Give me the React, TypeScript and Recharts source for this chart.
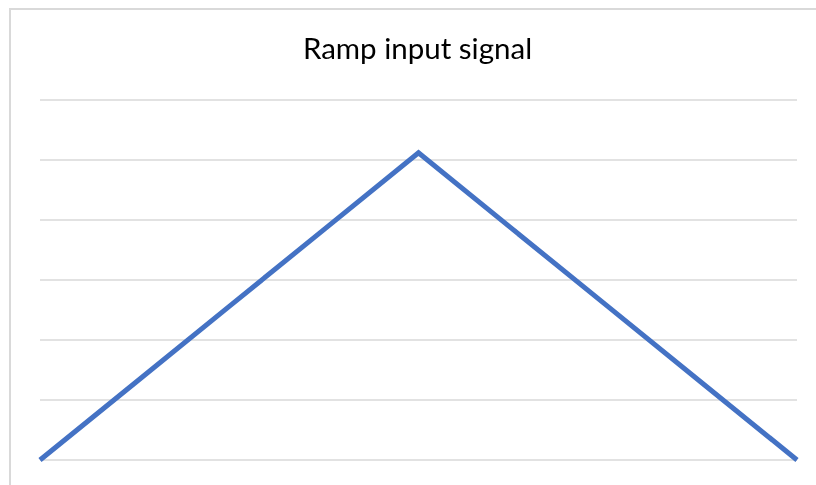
import React from "react";
import { LineChart, Line, XAxis, YAxis, CartesianGrid } from "recharts";

// ramp up to the peak, then back down
const steps = ["0", "1", "2", "3", "4", "5", "6", "7", "8"];
const signal = [0, 1.28, 2.56, 3.84, 5.12, 3.84, 2.56, 1.28, 0];
const yTicks = [0, 1, 2, 3, 4, 5, 6];

const data = steps.map((t, i) => ({ t, v: signal[i] }));

const App = () => {
  return (
    <div
      style={{
        position: "fixed",
        left: 8,
        top: 8,
        width: 808,
        height: 477,
        overflow: "hidden",
      }}
    >
      {/* chart frame, only its top and left edges fall inside the view */}
      <div
        style={{
          position: "absolute",
          left: 1,
          top: 0,
          width: 830,
          height: 500,
          borderTop: "2px solid #d9d9d9",
          borderLeft: "2px solid #d9d9d9",
          boxSizing: "border-box",
        }}
      />
      <div
        style={{
          position: "absolute",
          left: 0,
          width: 819,
          top: 22,
          textAlign: "center",
          fontFamily: "Lato, 'Open Sans', sans-serif",
          fontSize: 29.5,
          color: "#000",
          whiteSpace: "nowrap",
        }}
      >
        Ramp input signal
      </div>
      <div style={{ position: "absolute", left: 0, top: 0 }}>
        <LineChart
          width={808}
          height={477}
          data={data}
          margin={{ top: 92, right: 19, bottom: 25, left: 32 }}
        >
          <CartesianGrid vertical={false} stroke="#d9d9d9" strokeWidth={1.5} />
          <XAxis dataKey="t" hide padding={{ left: 0, right: 0 }} />
          <YAxis hide domain={[0, 6]} ticks={yTicks} width={0} />
          <Line
            type="linear"
            dataKey="v"
            stroke="#4472C4"
            strokeWidth={5}
            dot={false}
            isAnimationActive={false}
          />
        </LineChart>
      </div>
    </div>
  );
};

export default App;
